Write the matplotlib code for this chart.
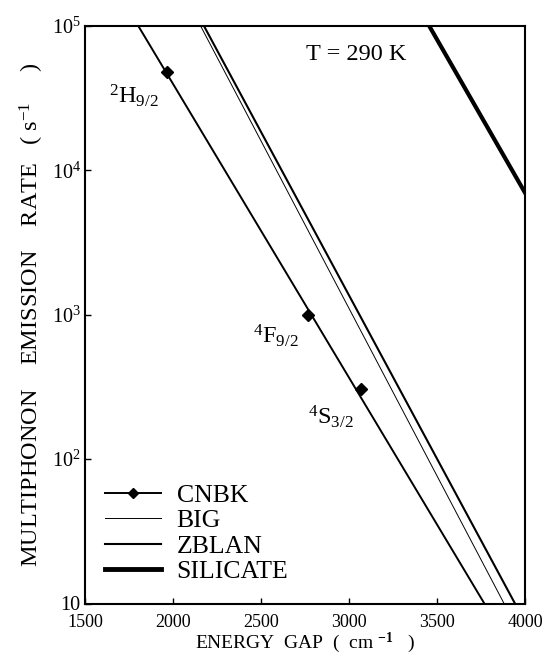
import matplotlib
matplotlib.use('Agg')
import matplotlib.pyplot as plt
from matplotlib.ticker import FixedLocator, FixedFormatter, NullLocator

plt.rcParams['font.family'] = ['Liberation Serif', 'DejaVu Serif']
plt.rcParams['mathtext.fontset'] = 'custom'
plt.rcParams['mathtext.rm'] = 'Liberation Serif'
plt.rcParams['mathtext.it'] = 'Liberation Serif:italic'
plt.rcParams['mathtext.bf'] = 'Liberation Serif:bold'

# straight-line fits (energy gap in cm-1, rate in s-1), end points
cnbk_gap = [1803, 3769]
cnbk_rate = [1e5, 10]
big_gap = [2157, 3881]
big_rate = [1e5, 10]
zblan_gap = [2176, 3943]
zblan_rate = [1e5, 10]
silicate_gap = [3456, 4000]
silicate_rate = [1e5, 7.0e3]

# CNBK levels (diamonds)
level_gap = [1968, 2765, 3066]
level_rate = [4.8e4, 1.0e3, 306]
level_names = [r'$^{2}$H$_{9/2}$', r'$^{4}$F$_{9/2}$', r'$^{4}$S$_{3/2}$']
label_gap = [1636, 2455, 2767]
label_rate = [2.9e4, 640, 175]

x_ticks = [1500, 2000, 2500, 3000, 3500, 4000]
y_ticks = [10, 1e2, 1e3, 1e4, 1e5]
y_ticklabels = ['10', r'10$^{2}$', r'10$^{3}$', r'10$^{4}$', r'10$^{5}$']

fig = plt.figure(figsize=(5.46, 6.56), dpi=100)
ax = fig.add_axes([85/546, 1 - 603.5/656, 440/546, 577.5/656])

ax.plot(cnbk_gap, cnbk_rate, color='black', lw=1.4)
ax.plot(level_gap, level_rate, ls='none', marker='D', ms=6, color='black')
ax.plot(big_gap, big_rate, color='black', lw=0.7)
ax.plot(zblan_gap, zblan_rate, color='black', lw=1.5)
ax.plot(silicate_gap, silicate_rate, color='black', lw=3.0)

for name, g, r in zip(level_names, label_gap, label_rate):
    ax.text(g, r, name, fontsize=17.5, ha='left', va='baseline')

ax.text(0.502, 0.95, 'T = 290 K', transform=ax.transAxes, fontsize=17.5,
        ha='left', va='center')

ax.set_yscale('log')
ax.set_xlim(1500, 4000)
ax.set_ylim(10, 1e5)
ax.xaxis.set_major_locator(FixedLocator(x_ticks))
ax.yaxis.set_major_locator(FixedLocator(y_ticks))
ax.yaxis.set_major_formatter(FixedFormatter(y_ticklabels))
ax.yaxis.set_minor_locator(NullLocator())
ax.tick_params(direction='in', length=4, width=1)
ax.tick_params(axis='x', labelsize=13, pad=7.5)
ax.tick_params(axis='y', labelsize=14.5, pad=3)
for sp in ax.spines.values():
    sp.set_linewidth(1.5)

ax.set_xlabel(r'ENERGY  GAP  (  cm $^{\mathbf{-1}}$   )', fontsize=14, labelpad=0)
ax.set_ylabel(r'MULTIPHONON    EMISSION    RATE   ( s$^{-1}$     )', fontsize=17.5, labelpad=4)

# legend built from the same styles
h_cnbk, = ax.plot([], [], color='black', lw=1.4, marker='D', ms=5)
h_big, = ax.plot([], [], color='black', lw=0.7)
h_zblan, = ax.plot([], [], color='black', lw=1.5)
h_sil, = ax.plot([], [], color='black', lw=3.5)
ax.legend([h_cnbk, h_big, h_zblan, h_sil], ['CNBK', 'BIG', 'ZBLAN', 'SILICATE'],
          loc='lower left', bbox_to_anchor=(0.045, 0.035), borderpad=0,
          borderaxespad=0, frameon=False, fontsize=18.5, labelspacing=0.1,
          handlelength=2.2, handletextpad=0.6)

fig.savefig('out.png', dpi=100)
